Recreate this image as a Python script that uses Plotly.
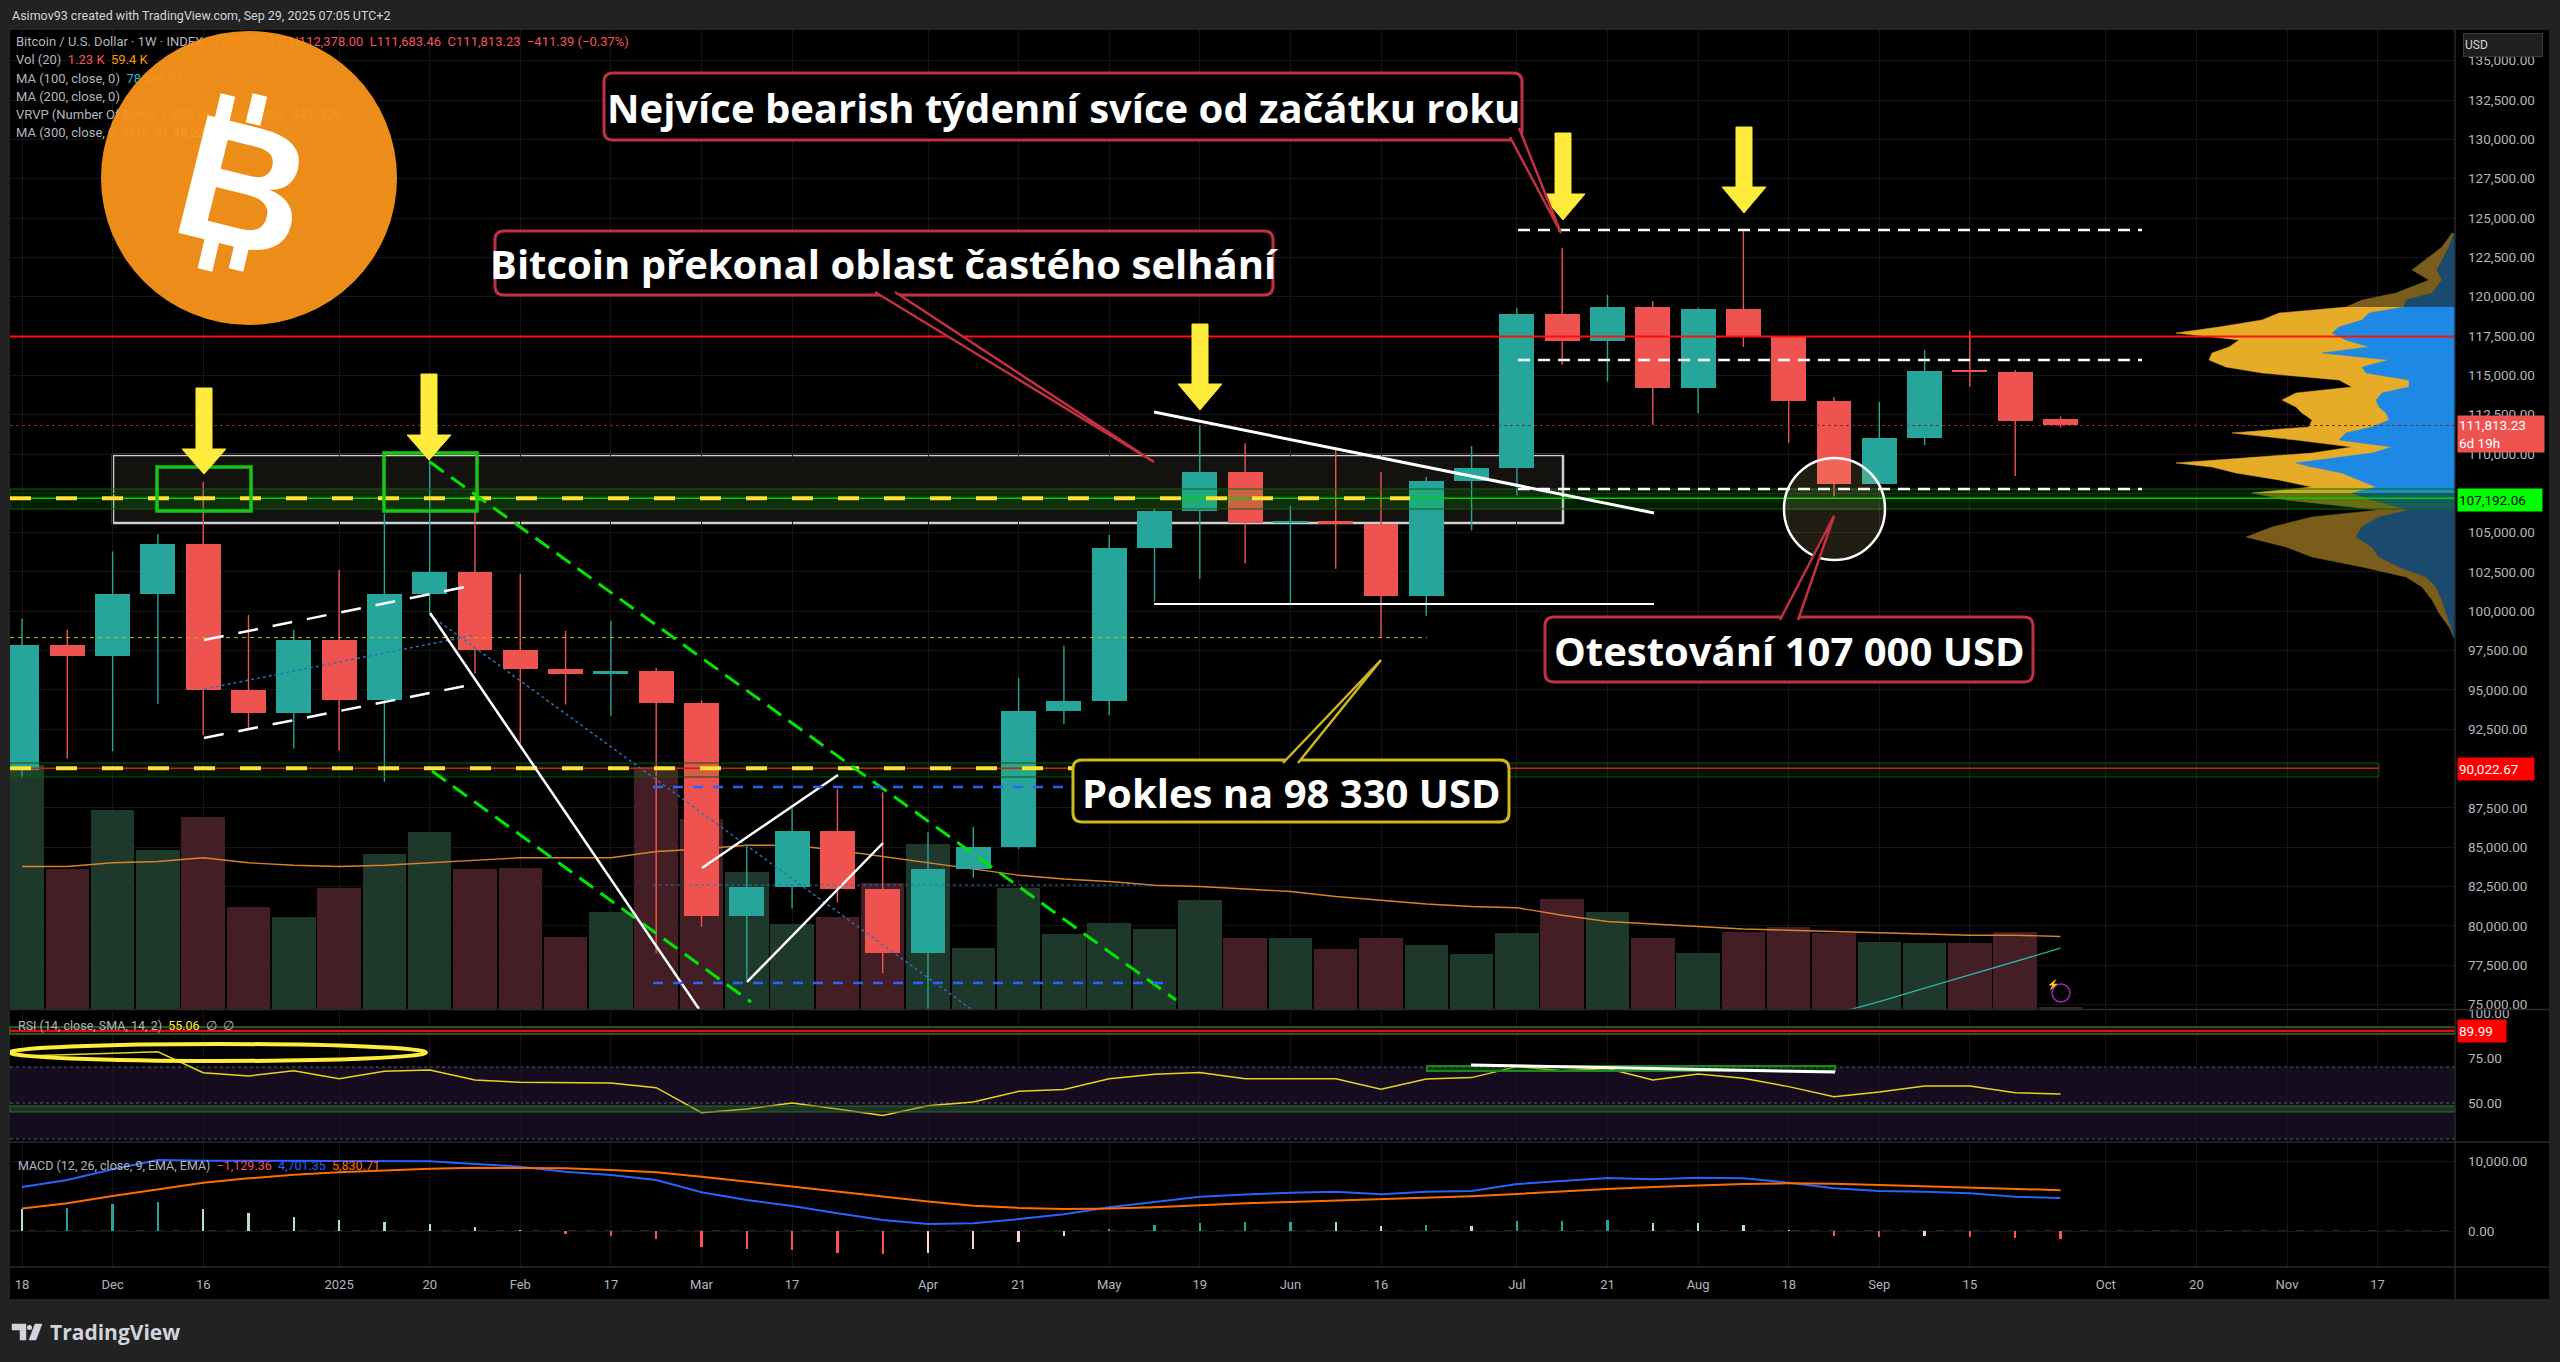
import plotly.graph_objects as go

# ---------------- values ----------------
# weekly BTC/USD candles, week 0 = 2024-11-18 ... week 45 = 2025-09-29
opens = [89900, 97840, 97140, 101090, 104250, 94990, 93510, 98200, 94390, 101110,
         102490, 97530, 96360, 96030, 96210, 94160, 80640, 82490, 86010, 82330,
         78260, 83630, 85000, 93640, 94300, 104040, 106370, 108860, 105600, 105750,
         105550, 100950, 108260, 109130, 118930, 117190, 119370, 114210, 119200, 117420,
         113400, 108110, 111030, 115250, 115230, 112237.12]
highs = [99530, 98830, 103800, 104920, 108220, 99760, 98830, 102640, 106200, 109650,
         106400, 102380, 98750, 99400, 96420, 94340, 85210, 87470, 88690, 88500,
         85960, 86300, 95770, 97820, 104870, 106530, 111850, 110690, 106700, 110360,
         108860, 108530, 110520, 119260, 123100, 120110, 119720, 119300, 124230, 117500,
         113630, 113300, 116610, 117840, 115340, 112378.00]
lows = [89410, 90630, 91100, 94130, 92140, 92520, 91280, 91150, 89150, 99920,
        96030, 91600, 94080, 93355, 78260, 79940, 76570, 81110, 81500, 77010,
        74500, 83060, 84900, 92840, 93400, 100620, 102050, 103040, 100480, 102710,
        98330, 99720, 105140, 107360, 115670, 114600, 111840, 112590, 116800, 110710,
        107300, 107900, 110550, 114270, 108600, 111683.46]
closes = [97840, 97140, 101090, 104250, 94990, 93510, 98200, 94390, 101110, 102490,
          97530, 96360, 96030, 96210, 94160, 80640, 82490, 86010, 82330, 78260,
          83630, 85000, 93640, 94300, 104040, 106370, 108860, 105600, 105750, 105550,
          100950, 108260, 109130, 118930, 117190, 119370, 114210, 119200, 117420, 113400,
          108110, 111030, 115250, 115230, 112100, 111813.23]
volume_k = [195, 112, 159, 127, 154, 82, 74, 97, 124, 142,
            112, 113, 58, 78, 194, 152, 110, 68, 74, 101,
            132, 49, 97, 60, 69, 64, 87, 57, 57, 48,
            57, 51, 44, 61, 88, 78, 57, 45, 62, 66,
            61, 54, 53, 53, 62, 1.23]
volume_ma_k = [114, 114, 117, 118, 121, 117, 115, 114, 115, 117,
               119, 121, 121, 121, 126, 128, 131, 131, 127, 122,
               117, 112, 107, 104, 102, 99, 98, 96, 94, 90,
               87, 84, 82, 81, 75, 70, 68, 66, 64, 63,
               62, 61, 60, 59, 59, 58]
ma100_weeks = [40, 41, 42, 43, 44, 45]
ma100_vals = [74400, 75200, 76050, 76900, 77750, 78589.93]
rsi_vals = [76.1, 76.7, 77.7, 78.5, 66.8, 65.0, 67.9, 63.5, 67.6, 68.3,
            62.8, 61.5, 61.3, 61.1, 58.5, 44.6, 46.7, 50.0, 46.7, 43.1,
            48.5, 50.5, 56.5, 57.5, 63.5, 66.0, 67.0, 63.5, 63.5, 63.5,
            57.6, 63.3, 64.1, 70.2, 67.9, 69.2, 62.8, 66.1, 63.7, 59.1,
            53.5, 56.1, 59.4, 59.4, 55.7, 55.06]
macd_line = [6300, 7286, 8810, 10143, 10048, 10050, 10050, 10000, 9990, 9952,
             9571, 9190, 8476, 8000, 7286, 5524, 4429, 3571, 2524, 1571,
             1000, 1100, 1700, 2400, 3400, 4200, 4900, 5200, 5476, 5619,
             5238, 5619, 5714, 6714, 7143, 7571, 7381, 7619, 7524, 6905,
             6095, 5714, 5619, 5381, 4905, 4701.35]
macd_signal = [3200, 3952, 5000, 6000, 6905, 7524, 8048, 8381, 8667, 8905,
               9048, 9048, 8952, 8714, 8381, 7762, 7048, 6333, 5619, 4905,
               4200, 3600, 3300, 3150, 3200, 3400, 3700, 3950, 4143, 4333,
               4571, 4714, 4952, 5286, 5667, 6000, 6286, 6524, 6714, 6810,
               6762, 6571, 6381, 6190, 5952, 5830.71]
vrvp_price = [124050, 123160, 121700, 121060, 120230, 119790, 119340, 118960, 118520, 118070,
              117690, 117250, 116800, 116420, 115970, 115530, 115150, 114700, 114260, 113880,
              113430, 112990, 112610, 112160, 111720, 111340, 110890, 110450, 110060, 109620,
              109430, 109170, 108790, 108350, 107900, 107520, 107080, 106440, 106000, 105360,
              104720, 104090, 103450, 102820, 102180, 101550, 100720, 99890, 99000, 98300]
vrvp_total = [3, 13, 43, 26, 59, 93, 109, 176, 193, 236,
              279, 216, 226, 243, 246, 229, 193, 116, 103, 159,
              173, 159, 153, 143, 146, 223, 159, 103, 143, 233,
              279, 243, 219, 176, 143, 203, 169, 76, 143, 183,
              209, 169, 143, 93, 49, 33, 23, 16, 6, 1]
vrvp_up = [1, 6, 18, 13, 23, 49, 51, 86, 93, 116,
           123, 109, 86, 133, 66, 93, 89, 46, 46, 73,
           79, 76, 69, 66, 83, 109, 116, 63, 83, 139,
           159, 143, 113, 96, 79, 103, 83, 46, 76, 93,
           99, 83, 76, 56, 29, 19, 13, 9, 4, 1]
tick_weeks = [0, 2, 4, 7, 9, 11, 13, 15, 17, 20, 22, 24, 26, 28, 30, 33, 35, 37, 39, 41, 43, 46, 48, 50, 52]
tick_text = ["18", "Dec", "16", "2025", "20", "Feb", "17", "Mar", "17", "Apr", "21", "May", "19",
             "Jun", "16", "Jul", "21", "Aug", "18", "Sep", "15", "Oct", "20", "Nov", "17"]
price_ticks = [75000 + 2500 * k for k in range(25) if 75000 + 2500 * k != 90000]

# ---------------- geometry helpers (reference pixel -> plot coords) ----------------
W, H = 2560, 1362
PL, PR, PT, PB = 10, 2455, 30, 1267


def PX(x):
    return (x - PL) / (PR - PL)


def PY(y):
    return (PB - y) / (PB - PT)


def wk(x):
    return (x - 22) / 45.3


def pr(y):
    return 132500 - (y - 100) * 63.56


def rs(y):
    return 100 - (y - 1013) / 1.8


TEAL, RED = "#26a69a", "#ef5350"
GRID = "#161616"
AXF = dict(family="Roboto", size=13.5, color="#b2b5be")

idx = list(range(len(opens)))
is_up = [c >= o for o, c in zip(opens, closes)]

fig = go.Figure()

# volume (base axis, drawn under candles)
fig.add_trace(go.Bar(x=idx, y=volume_k, width=0.96, xaxis="x", yaxis="y",
                     marker=dict(color=["#1f382c" if u else "#441e25" for u in is_up], line=dict(width=0)),
                     hoverinfo="skip"))
fig.add_trace(go.Scatter(x=idx, y=volume_ma_k, mode="lines", xaxis="x", yaxis="y",
                         line=dict(color="#d9822b", width=1.3), hoverinfo="skip"))

# candle wicks
for flag, col in ((True, TEAL), (False, RED)):
    wx, wy = [], []
    for i in idx:
        if is_up[i] == flag:
            wx += [i, i, None]
            wy += [lows[i], highs[i], None]
    fig.add_trace(go.Scatter(x=wx, y=wy, mode="lines", xaxis="x", yaxis="y4",
                             line=dict(color=col, width=1.4), hoverinfo="skip"))
# candle bodies
for flag, col in ((True, TEAL), (False, RED)):
    bx = [i for i in idx if is_up[i] == flag]
    fig.add_trace(go.Bar(x=bx, base=[min(opens[i], closes[i]) for i in bx],
                         y=[max(abs(closes[i] - opens[i]), 90) for i in bx],
                         width=0.77, xaxis="x", yaxis="y4",
                         marker=dict(color=col, line=dict(width=0)), hoverinfo="skip"))
# MA 100
fig.add_trace(go.Scatter(x=ma100_weeks, y=ma100_vals, mode="lines", xaxis="x", yaxis="y4",
                         line=dict(color="#2fb3a8", width=1.3), hoverinfo="skip"))

# legend lines (as text under the semi-transparent logo)
def sp(c, t):
    return f'<span style="color:{c}">{t}</span>'


NB = "\u00a0"
legend_lines = [
    (43, "Bitcoin / U.S. Dollar · 1W · INDEX" + NB * 2 + sp("#f7525f", "O112,237.12" + NB * 2 + "H112,378.00" + NB * 2 + "L111,683.46" + NB * 2 + "C111,813.23" + NB * 2 + "−411.39 (−0.37%)")),
    (61, "Vol (20)" + NB * 2 + sp("#f7525f", "1.23" + NB + "K") + NB * 2 + sp("#ff9800", "59.4" + NB + "K")),
    (80, "MA (100, close, 0)" + NB * 2 + sp("#2bb7c9", "78,589.93")),
    (98, "MA (200, close, 0)"),
    (116, "VRVP (Number Of Rows, 1,500, Up/Down)" + NB * 2 + sp("#2196f3", "484") + NB * 2 + sp("#fbc02d", "443") + NB * 2 + sp("#d1d4dc", "926")),
    (134, "MA (300, close, 0, SMA, 5)" + NB * 2 + sp("#ffffff", "45,236.75")),
]
for yy, txt in legend_lines:
    fig.add_trace(go.Scatter(x=[wk(16)], y=[pr(yy)], mode="text", text=[txt], textposition="middle right",
                             textfont=dict(family="Roboto", size=13, color="#b2b5be"),
                             xaxis="x", yaxis="y4", hoverinfo="skip"))

# VRVP profile (anchored at right edge)
segments = [(0, 6, "#7a5d1a", "#1a4a6e"), (6, 35, "#e6ac27", "#1e88e5"), (35, 49, "#7a5d1a", "#1a4a6e")]
for a, b, ycol, bcol in segments:
    fig.add_trace(go.Scatter(x=vrvp_total[a:b + 1], y=vrvp_price[a:b + 1], mode="lines", fill="tozerox",
                             fillcolor=ycol, line=dict(color=ycol, width=0.5), xaxis="x2", yaxis="y4",
                             hoverinfo="skip"))
    fig.add_trace(go.Scatter(x=vrvp_up[a:b + 1], y=vrvp_price[a:b + 1], mode="lines", fill="tozerox",
                             fillcolor=bcol, line=dict(color=bcol, width=0.5), xaxis="x2", yaxis="y4",
                             hoverinfo="skip"))

# RSI
fig.add_trace(go.Scatter(x=idx, y=rsi_vals, mode="lines", xaxis="x", yaxis="y2",
                         line=dict(color="#e6d51f", width=1.5), hoverinfo="skip"))

# MACD
hist = [m - s for m, s in zip(macd_line, macd_signal)]
hcol = []
for i, h in enumerate(hist):
    prev = hist[i - 1] if i else h
    if h >= 0:
        hcol.append("#26a69a" if h > prev else "#b2dfdb")
    else:
        hcol.append("#ffcdd2" if h > prev else "#ff5252")
fig.add_trace(go.Bar(x=idx, y=hist, width=0.05, xaxis="x", yaxis="y3",
                     marker=dict(color=hcol, line=dict(width=0)), hoverinfo="skip"))
fig.add_trace(go.Scatter(x=idx, y=macd_line, mode="lines", xaxis="x", yaxis="y3",
                         line=dict(color="#2962ff", width=2), hoverinfo="skip"))
fig.add_trace(go.Scatter(x=idx, y=macd_signal, mode="lines", xaxis="x", yaxis="y3",
                         line=dict(color="#ff6d00", width=2), hoverinfo="skip"))

# ---------------- drawings ----------------
shp = []
XL, XR = wk(PL), wk(PR)


def line(x0, y0, x1, y1, color, width, dash="solid", yref="y4", layer="above"):
    shp.append(dict(type="line", xref="x", yref=yref, x0=x0, y0=y0, x1=x1, y1=y1,
                    line=dict(color=color, width=width, dash=dash), layer=layer))


def rect(x0, y0, x1, y1, fill, lc="rgba(0,0,0,0)", lw=0, yref="y4", layer="above", xref="x"):
    shp.append(dict(type="rect", xref=xref, yref=yref, x0=x0, y0=y0, x1=x1, y1=y1,
                    fillcolor=fill, line=dict(color=lc, width=lw), layer=layer))


def ppath(path, fill, lc, lw, layer="above"):
    shp.append(dict(type="path", xref="paper", yref="paper", path=path, fillcolor=fill,
                    line=dict(color=lc, width=lw), layer=layer))


def P(x, y):
    return f"{PX(x):.5f},{PY(y):.5f}"


def rrect(x0, y0, x1, y1, r):
    return (f"M{P(x0 + r, y0)} L{P(x1 - r, y0)} Q{P(x1, y0)} {P(x1, y0 + r)} L{P(x1, y1 - r)} "
            f"Q{P(x1, y1)} {P(x1 - r, y1)} L{P(x0 + r, y1)} Q{P(x0, y1)} {P(x0, y1 - r)} "
            f"L{P(x0, y0 + r)} Q{P(x0, y0)} {P(x0 + r, y0)} Z")


# black canvas for chart + axes
shp.append(dict(type="rect", xref="paper", yref="paper", x0=PX(10), x1=PX(2549), y0=PY(1299), y1=PY(30),
                fillcolor="#000000", line=dict(width=0), layer="below"))
# RSI background band and levels
rect(0, 30, 1, 70, "#150c20", yref="y2", layer="below", xref="paper")
for lvl in (70, 50, 30):
    shp.append(dict(type="line", xref="paper", yref="y2", x0=0, x1=1, y0=lvl, y1=lvl,
                    line=dict(color="#5d6070", width=1.2, dash="dot"), layer="below"))
rect(0, 45.0, 1, 48.3, "rgba(46,125,50,0.35)", "#2e6b2e", 1, yref="y2", xref="paper")
rect(0, 88.3, 1, 92.2, "#300808", "#2e6b2e", 1.5, yref="y2", xref="paper")
shp.append(dict(type="line", xref="paper", yref="y2", x0=0, x1=1, y0=89.99, y1=89.99,
                line=dict(color="#e01010", width=2), layer="above"))
# MACD zero line
shp.append(dict(type="line", xref="paper", yref="y3", x0=0, x1=1, y0=0, y1=0,
                line=dict(color="#444444", width=1, dash="dash"), layer="below"))

# big white box (area of frequent failure)
rect(wk(113), pr(523), wk(1563), pr(455), "rgba(255,230,190,0.08)", "#cfcfcf", 2.5, layer="below")
# green bands and horizontal levels
rect(XL, pr(509), XR, pr(489), "rgba(0,190,0,0.16)", "#155e15", 1)
line(XL, 107192, XR, 107192, "#00d000", 1.5)
rect(XL, pr(777), wk(2379), pr(763), "rgba(0,190,0,0.10)", "#184d18", 1)
line(XL, 90022.67, wk(2379), 90022.67, "#e01515", 1.5)
line(XL, 107192, wk(1410), 107192, "#ffe135", 4, "21px,25px")
line(XL, 90022.67, wk(1410), 90022.67, "#ffe135", 4, "21px,25px")
line(XL, 98330, wk(1427), 98330, "#c8b400", 1, "4px,4px")
line(XL, 117470, XR, 117470, "#ff1010", 2)
line(XL, 111813.23, XR, 111813.23, "#8a2525", 1, "dot")
# green small boxes
rect(wk(157), pr(511), wk(251), pr(467), "rgba(0,0,0,0)", "#14c814", 3.5)
rect(wk(384), pr(511), wk(477), pr(453), "rgba(0,0,0,0)", "#14c814", 3.5)
# white dashed broadening lines (left)
line(wk(204), pr(640), wk(475), pr(585), "#ffffff", 2.5, "20px,15px")
line(wk(204), pr(738), wk(475), pr(684), "#ffffff", 2.5, "20px,15px")
# blue dotted diagonals
line(wk(204), pr(689), wk(475), pr(635), "#2f6fb0", 1.5, "dot")
line(wk(430), pr(615), wk(971), pr(1009), "#2f6fb0", 1.5, "dot")
# green dashed channel
line(wk(430), pr(462), wk(1176), pr(1000), "#00e600", 3, "17px,9px")
line(wk(432), pr(771), wk(751), pr(1002), "#00e600", 3, "17px,9px")
# white solid lines
line(wk(430), pr(613), wk(699), pr(1009), "#ffffff", 2.5)
line(wk(702), pr(868), wk(838), pr(775), "#ffffff", 2.5)
line(wk(747), pr(982), wk(883), pr(843), "#ffffff", 2.5)
# blue horizontals
line(wk(653), pr(787), wk(1078), pr(787), "#2962ff", 2.5, "10px,10px")
line(wk(653), pr(983), wk(1168), pr(983), "#2962ff", 2.5, "10px,10px")
line(wk(653), pr(885), wk(1154), pr(885), "#2f6fb0", 1.2, "dot")
# white trend line and support line
line(wk(1154), pr(412), wk(1654), pr(513), "#ffffff", 3)
line(wk(1154), pr(604), wk(1654), pr(604), "#ffffff", 2)
# white dashed levels (right)
for yy in (230, 360, 489):
    line(wk(1518), pr(yy), wk(2142), pr(yy), "#ffffff", 2.5, "12px,8px")
# circle around retest
shp.append(dict(type="circle", xref="x", yref="y4", x0=wk(1784), x1=wk(1885), y0=pr(560), y1=pr(458),
                fillcolor="rgba(255,225,140,0.13)", line=dict(color="#ffffff", width=2.5), layer="above"))

# yellow arrows
SH, HH = 8 / 45.3, 22 / 45.3
for xc, yt, yh, ytip in ((204, 388, 449, 474), (429, 374, 435, 460), (1200, 324, 384, 410),
                         (1563, 133, 194, 220), (1744, 127, 187, 213)):
    c, t, h, tp = wk(xc), pr(yt), pr(yh), pr(ytip)
    path = (f"M{c - SH},{t} L{c + SH},{t} L{c + SH},{h} L{c + HH},{h} L{c},{tp} "
            f"L{c - HH},{h} L{c - SH},{h} Z")
    shp.append(dict(type="path", xref="x", yref="y4", path=path, fillcolor="#ffeb3b",
                    line=dict(color="#ffeb3b", width=1), layer="above"))

# RSI annotations
shp.append(dict(type="circle", xref="x", yref="y2", x0=wk(10), x1=wk(426), y0=rs(1061), y1=rs(1044),
                line=dict(color="#ffeb3b", width=4), layer="above"))
rect(wk(1427), rs(1071), wk(1835), rs(1066), "rgba(0,128,0,0.35)", "#1b8a1b", 2, yref="y2")
line(wk(1471), rs(1065), wk(1835), rs(1072), "#ffffff", 3, yref="y2")

# callout boxes + pointers
RB, YB = "#c2313f", "#cbb81f"
callouts = [
    ((604, 73, 1522, 140), RB, ((1510, 137), (1561, 233), (1519, 128)), "Nejvíce bearish týdenní svíce od začátku roku"),
    ((495, 231, 1273, 295), RB, ((875, 292), (1154, 462), (895, 292)), "Bitcoin překonal oblast častého selhání"),
    ((1073, 760, 1509, 822), YB, ((1283, 763), (1381, 660), (1298, 763)), "Pokles na 98 330 USD"),
    ((1545, 617, 2033, 682), RB, ((1780, 620), (1834, 516), (1798, 620)), "Otestování 107 000 USD"),
]
ann = []
for (x0, y0, x1, y1), col, (b1, tip, b2), txt in callouts:
    ppath(rrect(x0, y0, x1, y1, 9), "#000000", col, 3)
    ppath(f"M{P(*b1)} L{P(*tip)} L{P(*b2)}", "#000000", col, 2.5)
    ann.append(dict(xref="paper", yref="paper", x=PX((x0 + x1) / 2), y=PY((y0 + y1) / 2 + 1), text=txt,
                    showarrow=False, xanchor="center", yanchor="middle",
                    font=dict(family="Open Sans", size=40, color="#ffffff", weight="bold")))

# Bitcoin logo
shp.append(dict(type="circle", xref="paper", yref="paper", x0=PX(101), x1=PX(397), y0=PY(325), y1=PY(31),
                fillcolor="#f7931a", line=dict(width=0), opacity=0.96, layer="above"))
for (xa, ya), (xb, yb) in (((221, 124), (228, 95)), ((253, 124), (260, 95)),
                           ((205, 270), (212, 240)), ((236, 270), (243, 240))):
    shp.append(dict(type="line", xref="paper", yref="paper", x0=PX(xa), y0=PY(ya), x1=PX(xb), y1=PY(yb),
                    line=dict(color="#ffffff", width=15), layer="above"))
ann.append(dict(xref="paper", yref="paper", x=PX(243), y=PY(186), text="B", showarrow=False,
                textangle=14, xanchor="center", yanchor="middle",
                font=dict(family="Liberation Sans", size=176, color="#ffffff", weight="bold")))

# pane separators
for yy in (1009.5, 1142, 1267):
    shp.append(dict(type="line", xref="paper", yref="paper", x0=PX(10), x1=PX(2549), y0=PY(yy), y1=PY(yy),
                    line=dict(color="#2a2a2a", width=1.5), layer="above"))
shp.append(dict(type="line", xref="paper", yref="paper", x0=1, x1=1, y0=PY(1299), y1=PY(30),
                line=dict(color="#2a2a2a", width=1.5), layer="above"))

# lightning badge
shp.append(dict(type="circle", xref="paper", yref="paper", x0=PX(2052), x1=PX(2070), y0=PY(1002), y1=PY(984),
                line=dict(color="#9c27b0", width=1.5), layer="above"))
ann.append(dict(xref="paper", yref="paper", x=PX(2061), y=PY(993), text="⚡", showarrow=False,
                font=dict(size=10, color="#b36ad6")))

# TradingView mark (bottom)
ppath(f"M{P(12,1324)} L{P(26,1324)} L{P(26,1340)} L{P(20,1340)} L{P(20,1330)} L{P(12,1330)} Z",
      "#d1d4dc", "#d1d4dc", 0.5)
shp.append(dict(type="circle", xref="paper", yref="paper", x0=PX(27), x1=PX(32), y0=PY(1330), y1=PY(1325),
                fillcolor="#d1d4dc", line=dict(width=0), layer="above"))
ppath(f"M{P(35,1324)} L{P(42,1324)} L{P(36,1340)} L{P(29,1340)} Z", "#d1d4dc", "#d1d4dc", 0.5)
ann.append(dict(xref="paper", yref="paper", x=PX(48), y=PY(1332), text="TradingView", showarrow=False,
                xanchor="left", yanchor="middle",
                font=dict(family="Open Sans", size=21, color="#d1d4dc", weight="bold")))

# header and pane titles
ann.append(dict(xref="paper", yref="paper", x=PX(10), y=PY(16), text="Asimov93 created with TradingView.com, Sep 29, 2025 07:05 UTC+2",
                showarrow=False, xanchor="left", yanchor="middle",
                font=dict(family="Roboto", size=12.5, color="#d1d4dc")))
ann.append(dict(xref="paper", yref="paper", x=PX(16), y=PY(1025),
                text="RSI (14, close, SMA, 14, 2)" + NB * 2 + sp("#ffeb3b", "55.06") + NB * 2 + "∅" + NB * 2 + "∅",
                showarrow=False, xanchor="left", yanchor="middle",
                font=dict(family="Roboto", size=12.5, color="#b2b5be")))
ann.append(dict(xref="paper", yref="paper", x=PX(16), y=PY(1165),
                text="MACD (12, 26, close, 9, EMA, EMA)" + NB * 2 + sp("#f7525f", "−1,129.36") + NB * 2
                + sp("#2962ff", "4,701.35") + NB * 2 + sp("#ff6d00", "5,830.71"),
                showarrow=False, xanchor="left", yanchor="middle",
                font=dict(family="Roboto", size=12.5, color="#b2b5be")))

# price-scale labels
def plabel(y, txt, bg, fg, h=20, w=82):
    ann.append(dict(xref="paper", yref="paper", x=PX(2457), y=PY(y), text=txt, showarrow=False,
                    xanchor="left", yanchor="middle", align="left", bgcolor=bg, width=w, height=h,
                    borderpad=1, font=dict(family="Roboto", size=13.5, color=fg)))


plabel(434, "111,813.23<br>6d 19h", "#ef5350", "#ffffff", h=34, w=84)
plabel(500, "107,192.06", "#00ff00", "#000000")
plabel(769, "90,022.67", "#ff0000", "#ffffff", w=74)
plabel(1031, "89.99", "#ff0000", "#ffffff", w=46)
ann.append(dict(xref="paper", yref="paper", x=PX(2503), y=PY(45), text="USD", showarrow=False,
                xanchor="center", yanchor="middle", bgcolor="#1e1e1e", bordercolor="#3a3a3a",
                borderwidth=1, width=76, height=20, align="left",
                font=dict(family="Roboto", size=12, color="#d1d4dc")))

# ---------------- layout ----------------
main_dom = [PY(1009), 1]
rsi_dom = [PY(1141), PY(1011)]
macd_dom = [0, PY(1143)]

fig.update_layout(
    width=W, height=H,
    margin=dict(l=PL, r=W - PR, t=PT, b=H - PB, autoexpand=False),
    paper_bgcolor="#222222", plot_bgcolor="#000000",
    showlegend=False, barmode="overlay", bargap=0,
    shapes=shp, annotations=ann,
    xaxis=dict(domain=[0, 1], range=[XL, XR], anchor="y3", tickmode="array", tickvals=tick_weeks,
               ticktext=tick_text, showgrid=True, gridcolor=GRID, zeroline=False, showline=False,
               ticks="", ticklabelstandoff=8, tickfont=dict(family="Roboto", size=13, color="#b2b5be")),
    xaxis2=dict(overlaying="x", range=[PR - PL, 0], visible=False, anchor="y4"),
    yaxis=dict(domain=main_dom, range=[0, (1009 - PT) * 0.8], visible=False, showgrid=False),
    yaxis4=dict(overlaying="y", side="right", anchor="x", range=[pr(1009), pr(PT)], tickmode="array",
                tickvals=price_ticks, ticktext=[f"{v:,.2f}" for v in price_ticks], showgrid=True,
                gridcolor=GRID, zeroline=False, ticks="", ticklabelstandoff=12, tickfont=AXF),
    yaxis2=dict(domain=rsi_dom, side="right", anchor="x", range=[rs(1141), rs(1011)], tickmode="array",
                tickvals=[50, 75, 100], ticktext=["50.00", "75.00", "100.00"], showgrid=False,
                zeroline=False, ticks="", ticklabelstandoff=12, tickfont=AXF),
    yaxis3=dict(domain=macd_dom, side="right", anchor="x", range=[-5143, 12571], tickmode="array",
                tickvals=[0, 10000], ticktext=["0.00", "10,000.00"], showgrid=True, gridcolor=GRID,
                zeroline=False, ticks="", ticklabelstandoff=12, tickfont=AXF),
)

fig.write_html("out.html", config={"displayModeBar": False},
               post_script="document.body.style.margin='0px';document.body.style.overflow='hidden';")
